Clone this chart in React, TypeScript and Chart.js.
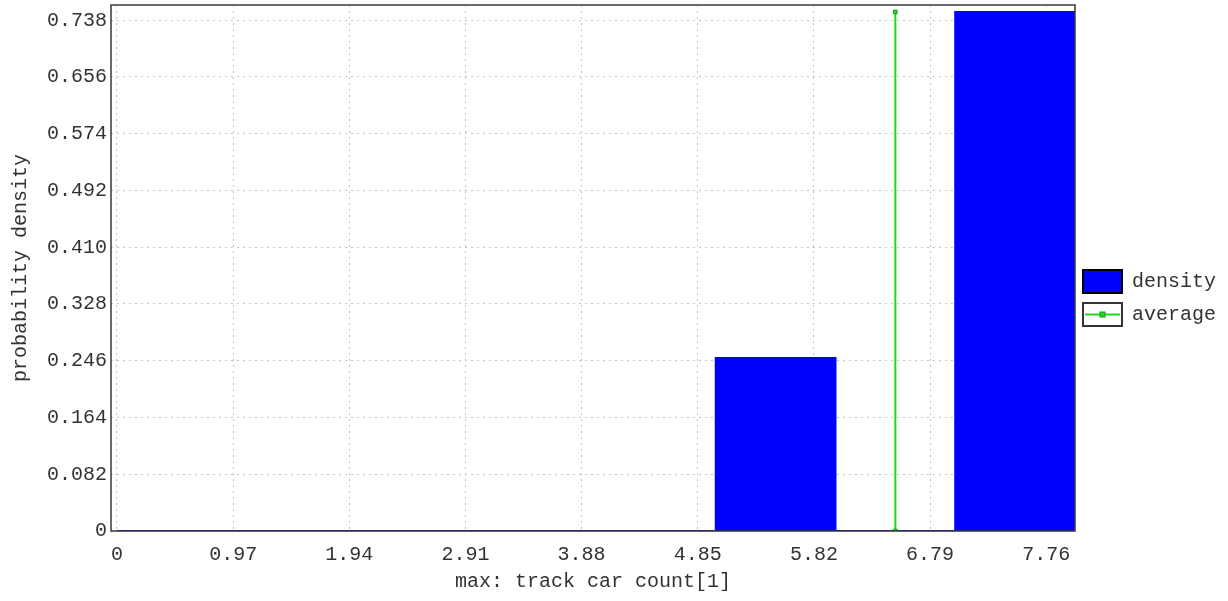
import React, { useEffect, useRef } from "react";
import { Chart, registerables } from "chart.js";

Chart.register(...registerables);

// ---- data ----
const binEdges = [0, 1, 2, 3, 4, 5, 6, 7, 8];
const densityValues = [0, 0, 0, 0, 0, 0.25, 0, 0.75];
const averageX = 6.5;
const averageSpan = [0, 0.75];
const xTickValues = [0, 0.97, 1.94, 2.91, 3.88, 4.85, 5.82, 6.79, 7.76];
const xTickLabels = ["0", "0.97", "1.94", "2.91", "3.88", "4.85", "5.82", "6.79", "7.76"];
const yTickValues = [0, 0.082, 0.164, 0.246, 0.328, 0.41, 0.492, 0.574, 0.656, 0.738];
const yTickLabels = ["0", "0.082", "0.164", "0.246", "0.328", "0.410", "0.492", "0.574", "0.656", "0.738"];
const seriesNames = ["density", "average"];
const xTitle = "max: track car count[1]";
const yTitle = "probability density";

const FONT = "'Liberation Mono', 'DejaVu Sans Mono', monospace";
const TEXT = "#333333";
const BLUE = "#0000ff";
const GREEN = "#1fd81f";

export default function App() {
  const ref = useRef<HTMLCanvasElement | null>(null);

  useEffect(() => {
    if (!ref.current) return;

    // stepped outline of histogram built from bin edges and values
    const densityPts: { x: number; y: number }[] = binEdges
      .slice(0, densityValues.length)
      .map((e, i) => ({ x: e, y: densityValues[i] }));
    densityPts.push({ x: binEdges[binEdges.length - 1], y: densityValues[densityValues.length - 1] });
    densityPts.push({ x: binEdges[binEdges.length - 1], y: 0 });

    const avgPts = averageSpan.map((y) => ({ x: averageX, y }));

    const framePlugin = {
      id: "frame",
      afterLayout(chart: any) {
        const lg = chart.legend;
        if (lg) {
          lg.top -= 4;
          lg.bottom -= 4;
          lg.left -= 2;
          lg.right -= 2;
        }
      },
      afterDraw(chart: any) {
        const { ctx, chartArea } = chart;
        ctx.save();
        ctx.strokeStyle = "#383838";
        ctx.lineWidth = 1.5;
        ctx.strokeRect(chartArea.left, chartArea.top, chartArea.right - chartArea.left, chartArea.bottom - chartArea.top);
        // legend line symbol for "average"
        const lg = chart.legend;
        if (lg && lg.legendHitBoxes && lg.legendHitBoxes[1]) {
          const hb = lg.legendHitBoxes[1];
          const bw = 39;
          const cy = hb.top + hb.height / 2;
          ctx.strokeStyle = GREEN;
          ctx.lineWidth = 2;
          ctx.beginPath();
          ctx.moveTo(hb.left + 2, cy);
          ctx.lineTo(hb.left + bw - 2, cy);
          ctx.stroke();
          ctx.fillStyle = GREEN;
          ctx.strokeStyle = "#12a012";
          ctx.lineWidth = 1;
          ctx.fillRect(hb.left + bw / 2 - 2.5, cy - 2.5, 5, 5);
          ctx.strokeRect(hb.left + bw / 2 - 2.5, cy - 2.5, 5, 5);
        }
        ctx.restore();
      },
    };

    const chart = new Chart(ref.current, {
      type: "line",
      data: {
        datasets: [
          {
            label: seriesNames[0],
            data: densityPts,
            stepped: "before",
            fill: "origin",
            backgroundColor: BLUE,
            borderColor: BLUE,
            borderWidth: 2,
            pointRadius: 0,
            order: 2,
          },
          {
            label: seriesNames[1],
            data: avgPts,
            borderColor: GREEN,
            backgroundColor: GREEN,
            borderWidth: 2,
            pointStyle: "rect",
            pointRadius: 2.5,
            pointBorderColor: "#12a012",
            pointBackgroundColor: GREEN,
            pointBorderWidth: 1,
            fill: false,
            order: 1,
          },
        ],
      },
      options: {
        animation: false,
        responsive: true,
        maintainAspectRatio: false,
        layout: { padding: { left: -1, top: 4, right: 0, bottom: 1 } },
        plugins: {
          tooltip: { enabled: false },
          legend: {
            position: "right",
            align: "center",
            labels: {
              boxWidth: 39,
              boxHeight: 23,
              padding: 10,
              color: TEXT,
              font: { family: FONT, size: 20 },
              generateLabels: () => [
                { text: seriesNames[0], fillStyle: BLUE, strokeStyle: "#000000", lineWidth: 2, datasetIndex: 0, fontColor: TEXT, hidden: false },
                { text: seriesNames[1], fillStyle: "#ffffff", strokeStyle: "#333333", lineWidth: 2, datasetIndex: 1, fontColor: TEXT, hidden: false },
              ],
            },
          },
        },
        scales: {
          x: {
            type: "linear",
            min: -0.05,
            max: 8,
            afterBuildTicks: (axis: any) => {
              axis.ticks = xTickValues.map((v) => ({ value: v }));
            },
            afterFit: (axis: any) => {
              axis.paddingLeft = 0;
              axis.paddingRight = 0;
              axis.paddingTop = 0;
              axis.paddingBottom = 0;
            },
            ticks: {
              autoSkip: false,
              maxRotation: 0,
              padding: 12,
              color: TEXT,
              font: { family: FONT, size: 20 },
              callback: (_v: any, i: number) => xTickLabels[i],
            },
            grid: { color: "#c4c4c4", drawTicks: false, lineWidth: 1 },
            border: { display: false, dash: [2, 4] },
            title: { display: true, text: xTitle, color: TEXT, font: { family: FONT, size: 20 }, padding: { top: -9, bottom: 6 } },
          },
          y: {
            type: "linear",
            min: 0,
            max: 0.76,
            afterBuildTicks: (axis: any) => {
              axis.ticks = yTickValues.map((v) => ({ value: v }));
            },
            afterFit: (axis: any) => {
              axis.paddingTop = 0;
              axis.paddingBottom = 0;
            },
            ticks: {
              autoSkip: false,
              padding: 4,
              color: TEXT,
              font: { family: FONT, size: 20 },
              callback: (_v: any, i: number) => yTickLabels[i],
            },
            grid: { color: "#c4c4c4", drawTicks: false, lineWidth: 1 },
            border: { display: false, dash: [2, 4] },
            title: { display: true, text: yTitle, color: TEXT, font: { family: FONT, size: 20 }, padding: { top: 10, bottom: 10 } },
          },
        },
      },
      plugins: [framePlugin],
    });

    return () => chart.destroy();
  }, []);

  return (
    <div style={{ position: "fixed", left: 0, top: 0, width: 1228, height: 601, background: "#ffffff" }}>
      <canvas ref={ref} />
    </div>
  );
}
